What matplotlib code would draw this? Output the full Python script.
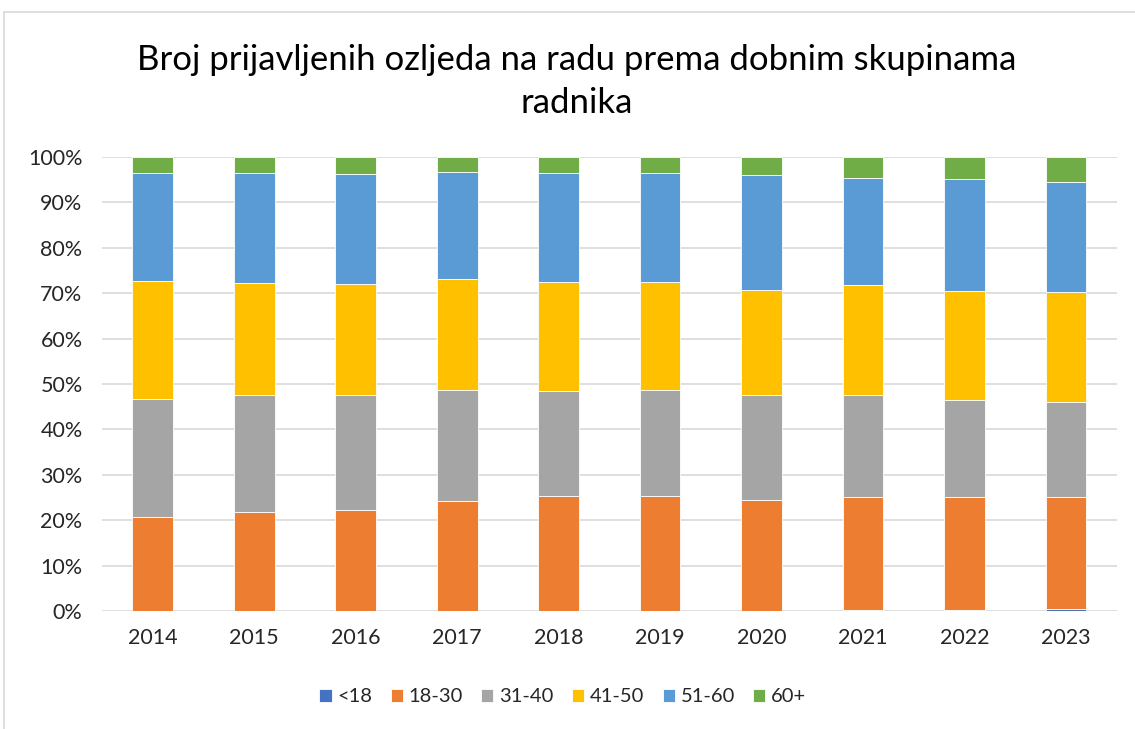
import matplotlib.pyplot as plt
import numpy as np
from matplotlib.ticker import PercentFormatter

plt.rcParams["font.family"] = ["Lato", "DejaVu Sans"]

years = ["2014", "2015", "2016", "2017", "2018", "2019", "2020", "2021", "2022", "2023"]
groups = ["<18", "18-30", "31-40", "41-50", "51-60", "60+"]

# shares in %
under_18 = [0.1, 0.1, 0.1, 0.1, 0.1, 0.1, 0.1, 0.2, 0.2, 0.4]
age_18_30 = [20.5, 21.6, 22.1, 24.1, 25.2, 25.2, 24.3, 25.0, 24.8, 24.6]
age_31_40 = [26.0, 25.8, 25.4, 24.4, 23.2, 23.3, 23.1, 22.3, 21.5, 21.1]
age_41_50 = [26.0, 24.8, 24.4, 24.5, 24.0, 23.9, 23.1, 24.3, 24.0, 24.2]
age_51_60 = [23.8, 24.1, 24.3, 23.6, 23.9, 24.0, 25.4, 23.6, 24.6, 24.1]
age_60_plus = [3.6, 3.6, 3.7, 3.3, 3.6, 3.5, 4.0, 4.6, 4.9, 5.6]

colors = ["#4472C4", "#ED7D31", "#A5A5A5", "#FFC000", "#5B9BD5", "#70AD47"]
series = [under_18, age_18_30, age_31_40, age_41_50, age_51_60, age_60_plus]

fig = plt.figure(figsize=(11.35, 7.29), dpi=100)
ax = fig.add_axes([0.0899, 0.1619, 0.8941, 0.6227])

x = np.arange(len(years))
totals = np.sum(series, axis=0)
bottom = np.zeros(len(years))
for name, vals, col in zip(groups, series, colors):
    share = np.array(vals) / totals * 100
    ax.bar(x, share, 0.4, bottom=bottom, color=col, label=name,
           edgecolor="white", linewidth=0.6, zorder=3)
    bottom += share

ax.set_xlim(-0.5, len(years) - 0.5)
ax.set_ylim(0, 100)
ax.set_yticks(np.arange(0, 101, 10))
ax.yaxis.set_major_formatter(PercentFormatter(decimals=0))
ax.set_xticks(x)
ax.set_xticklabels(years)
ax.grid(axis="y", color="#D9D9D9", linewidth=1.2, zorder=0)
for s in ax.spines.values():
    s.set_visible(False)
ax.tick_params(length=0, labelsize=15.5, colors="#262626")
ax.tick_params(axis="x", pad=12)
ax.tick_params(axis="y", pad=14)

fig.text(0.508, 0.888, "Broj prijavljenih ozljeda na radu prema dobnim skupinama\nradnika",
         ha="center", va="center", fontsize=25, color="#000000", linespacing=1.45)

fig.legend(loc="center", bbox_to_anchor=(0.496, 0.044), ncol=6, frameon=False,
           fontsize=14.5, handlelength=0.6, handleheight=0.6, handletextpad=0.3,
           columnspacing=0.9, labelcolor="#262626")

# chart border
fig.add_artist(plt.Line2D([4 / 1135, 4 / 1135], [0, 1 - 12 / 729], color="#D9D9D9", lw=1.2))
fig.add_artist(plt.Line2D([4 / 1135, 1], [1 - 12 / 729, 1 - 12 / 729], color="#D9D9D9", lw=1.2))

fig.savefig("out.png", dpi=100)
